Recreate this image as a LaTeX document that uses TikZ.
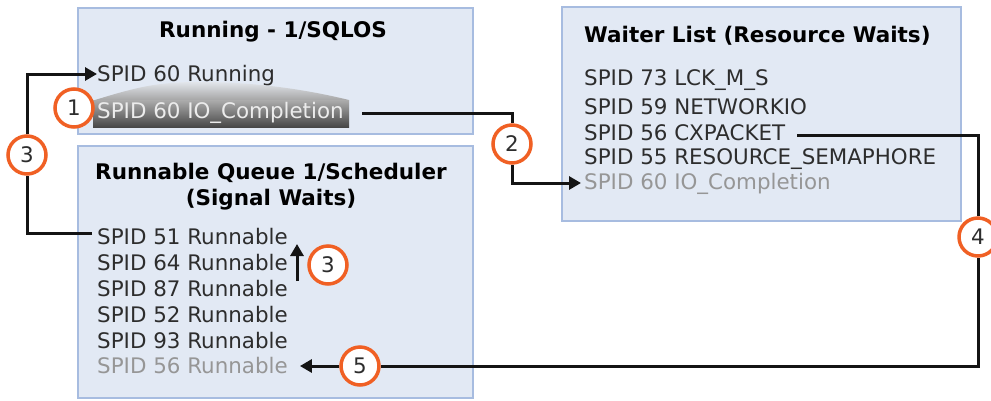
\documentclass[tikz,border=0pt]{standalone}
\usepackage{fontspec}
\setmainfont{DejaVu Sans}
\usetikzlibrary{arrows.meta,calc}
\definecolor{boxfill}{RGB}{226,233,244}
\definecolor{boxline}{RGB}{167,188,224}
\definecolor{orng}{RGB}{240,96,36}
\definecolor{txt}{RGB}{45,45,45}
\definecolor{grey}{RGB}{150,150,150}
\definecolor{ln}{RGB}{20,20,20}
\begin{document}
\begin{tikzpicture}[x=1pt,y=-1pt,
  every node/.style={inner sep=0pt},
  boxstyle/.style={draw=boxline,fill=boxfill,line width=2pt},
  ttl/.style={font=\fontsize{21.5}{25}\selectfont\bfseries,text=black},
  item/.style={font=\fontsize{21.4}{25}\selectfont,text=txt,anchor=west},
  greyitem/.style={item,text=grey},
  num/.style={circle,draw=orng,line width=3.5pt,fill=white,minimum size=38pt,
    font=\fontsize{21.4}{25}\selectfont,text=txt},
  conn/.style={draw=ln,line width=3pt},
  tip/.style={-{Triangle[length=12pt,width=13pt]}}
]
\useasboundingbox (0,0) rectangle (991,400);
\fill[white] (0,0) rectangle (991,400);
% boxes
\draw[boxstyle] (78,8) rectangle (473,134);
\draw[boxstyle] (78,146) rectangle (473,398);
\draw[boxstyle] (562,7) rectangle (961,221);
% running box
\node[ttl] (t1) at (273,32) {Running - 1/SQLOS};
\node[item] (r1) at (97,76) {SPID 60 Running};
\shade[top color=boxfill!80!gray!60,bottom color=gray!70]
  (95,100) .. controls (140,86) and (160,82) .. (200,82)
  .. controls (250,82) and (300,88) .. (349,100) -- cycle;
\node[anchor=west,minimum height=27pt,minimum width=256pt,
  top color=gray!65,bottom color=black!72] (hl) at (93,113.5) {};
\node[item,text=white!85!gray] (r2) at (97,113) {SPID 60 IO\_Completion};
% runnable box
\node[ttl] (t2) at (271,173) {Runnable Queue 1/Scheduler};
\node[ttl] (t2b) at (271,200) {(Signal Waits)};
\node[item] (q1) at (97,237) {SPID 51 Runnable};
\node[item] (q2) at (97,263) {SPID 64 Runnable};
\node[item] (q3) at (97,289) {SPID 87 Runnable};
\node[item] (q4) at (97,315) {SPID 52 Runnable};
\node[item] (q5) at (97,341) {SPID 93 Runnable};
\node[greyitem] (q6) at (97,366) {SPID 56 Runnable};
% waiter list
\node[ttl,anchor=west] (t3) at (584,36) {Waiter List (Resource Waits)};
\node[item] (w1) at (584,80) {SPID 73 LCK\_M\_S};
\node[item] (w2) at (584,107) {SPID 59 NETWORKIO};
\node[item] (w3) at (584,133) {SPID 56 CXPACKET};
\node[item] (w4) at (584,159) {SPID 55 RESOURCE\_SEMAPHORE};
\node[greyitem] (w5) at (584,184) {SPID 60 IO\_Completion};
% numbered circles
\node[num] (c1) at (74,108) {1};
\node[num] (c3a) at (27,155) {3};
\node[num] (c2) at (512,144) {2};
\node[num] (c3b) at (328,265) {3};
\node[num] (c4) at (978,237) {4};
\node[num] (c5) at (360,366) {5};
% connectors
\coordinate (s3) at ($(q1.west)+(-5,-4)$);
\draw[conn] (s3) -| (c3a.south);
\draw[conn,tip] (c3a.north) |- ($(r1.west)+(0,-2)$);
\coordinate (s2) at ($(hl.east)+(13,0)$);
\draw[conn] (s2) -| (c2.north);
\draw[conn,tip] (c2.south) |- ($(w5.west)+(-3,-1)$);
\coordinate (s4) at ($(w3.east)+(12,2)$);
\draw[conn] (s4) -| (c4.north);
\draw[conn] (c4.south) |- (c5.east);
\draw[conn,tip] (c5.west) -- ($(q6.east)+(12,0)$);
\coordinate (ua1) at (297,281);
\coordinate (ua2) at (297,244);
\draw[conn,tip] (ua1) -- (ua2);
\end{tikzpicture}
\end{document}
